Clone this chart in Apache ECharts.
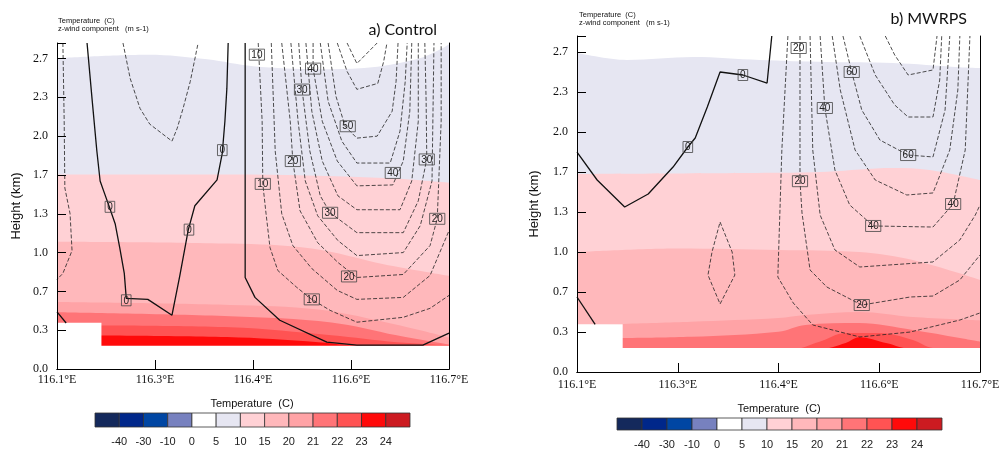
<!DOCTYPE html>
<html>
<head>
<meta charset="utf-8">
<script src="https://cdn.jsdelivr.net/npm/echarts@6/dist/echarts.min.js"></script>
<style>
  html, body { margin: 0; padding: 0; background: #fff; }
  #chart { width: 1006px; height: 450px; }
</style>
</head>
<body>
<div id="chart"></div>
<script>
// ---- axis tick labels ----
const xTickLabels = ['116.1°E', '116.3°E', '116.4°E', '116.6°E', '116.7°E'];
const tempLevels = ['-40', '-30', '-10', '0', '5', '10', '15', '20', '21', '22', '23', '24'];
const tempColors = ['#14295c', '#00278a', '#0046a3', '#7781bf', '#ffffff', '#e6e6f2',
                    '#ffd1d5', '#ffb8bb', '#ffa3a6', '#ff7477', '#ff5353', '#ff0a0a', '#cc1b21'];

// terrain mask (lon, km)
const terrainEdge = [[116.1, 0.397], [116.168, 0.397], [116.168, 0.2], [116.7, 0.2]];

// ---- a) Control : temperature isotherm tops (lon, km) ----
const ctrlT5  = [[116.1, 2.67], [116.24, 2.70], [116.33, 2.66], [116.4, 2.60], [116.5, 2.575], [116.57, 2.585], [116.65, 2.66], [116.69, 2.755], [116.7, 2.79]];
const ctrlT10 = [[116.1, 1.67], [116.365, 1.67], [116.6, 1.64], [116.7, 1.60]];
const ctrlT15 = [[116.1, 1.094], [116.365, 1.077], [116.49, 1.034], [116.6, 0.90], [116.7, 0.80]];
const ctrlT20 = [[116.1, 0.575], [116.365, 0.55], [116.5, 0.51], [116.62, 0.38], [116.7, 0.27]];
const ctrlT21 = [[116.1, 0.487], [116.365, 0.453], [116.52, 0.40], [116.62, 0.29], [116.7, 0.21]];
const ctrlT22 = [[116.1, 0.376], [116.365, 0.359], [116.52, 0.29], [116.62, 0.23], [116.7, 0.205]];
const ctrlT23 = [[116.1, 0.29], [116.36, 0.274], [116.5, 0.23], [116.56, 0.2], [116.7, 0.19]];

// ---- a) Control : z-wind contours (lon, km) ----
const ctrlW0a = [[116.146, 2.8], [116.154, 2.299], [116.161, 1.872], [116.166, 1.615], [116.173, 1.504], [116.180, 1.393], [116.189, 1.248], [116.196, 1.043], [116.203, 0.821], [116.206, 0.607], [116.239, 0.598], [116.276, 0.462], [116.288, 0.803], [116.301, 1.197], [116.311, 1.402], [116.345, 1.624], [116.353, 1.855], [116.357, 2.128], [116.360, 2.41], [116.362, 2.8]];
const ctrlW0b = [[116.1, 0.49], [116.114, 0.395]];
const ctrlW0c = [[116.388, 2.8], [116.388, 0.786], [116.403, 0.615], [116.441, 0.419], [116.513, 0.231], [116.559, 0.205], [116.66, 0.205], [116.7, 0.308]];
const ctrlWn  = [[116.201, 2.8], [116.212, 2.496], [116.227, 2.239], [116.242, 2.103], [116.276, 1.957], [116.284, 2.068], [116.293, 2.239], [116.304, 2.47], [116.316, 2.8]];
const ctrlWe  = [[116.109, 2.8], [116.111, 2.128], [116.112, 1.556], [116.12, 1.333], [116.123, 1.017], [116.109, 0.821], [116.1, 0.769]];
const ctrlW10 = [[116.408, 2.8], [116.414, 2.128], [116.415, 1.59], [116.42, 1.333], [116.426, 1.043], [116.438, 0.846], [116.467, 0.701], [116.49, 0.598], [116.518, 0.504], [116.559, 0.402], [116.63, 0.444], [116.671, 0.521], [116.7, 0.632]];
const ctrlW15 = [[116.428, 2.8], [116.434, 1.872], [116.444, 1.333], [116.461, 1.06], [116.49, 0.863], [116.529, 0.675], [116.559, 0.598], [116.63, 0.615], [116.671, 0.803], [116.7, 1.188]];
const ctrlW20 = [[116.444, 2.8], [116.457, 2.128], [116.461, 1.786], [116.472, 1.359], [116.499, 1.085], [116.53, 0.915], [116.559, 0.786], [116.63, 0.812], [116.671, 1.06], [116.682, 1.291], [116.688, 2.128], [116.688, 2.8]];
const ctrlW25 = [[116.458, 2.8], [116.469, 2.128], [116.48, 1.615], [116.499, 1.316], [116.53, 1.103], [116.559, 0.974], [116.63, 1.0], [116.656, 1.231], [116.674, 1.615], [116.677, 2.8]];
const ctrlW30 = [[116.47, 2.8], [116.475, 2.402], [116.487, 1.872], [116.503, 1.487], [116.518, 1.342], [116.559, 1.171], [116.63, 1.171], [116.653, 1.444], [116.666, 1.803], [116.665, 2.299], [116.663, 2.8]];
const ctrlW35 = [[116.481, 2.8], [116.49, 2.214], [116.506, 1.786], [116.53, 1.487], [116.559, 1.368], [116.625, 1.368], [116.643, 1.615], [116.653, 2.128], [116.653, 2.8]];
const ctrlW40 = [[116.492, 2.8], [116.492, 2.581], [116.506, 2.128], [116.529, 1.786], [116.559, 1.573], [116.614, 1.581], [116.63, 1.786], [116.64, 2.214], [116.643, 2.8]];
const ctrlW45 = [[116.503, 2.8], [116.515, 2.299], [116.536, 1.957], [116.559, 1.769], [116.61, 1.769], [116.625, 2.043], [116.633, 2.47], [116.636, 2.8]];
const ctrlW50 = [[116.515, 2.8], [116.527, 2.342], [116.541, 2.085], [116.559, 1.983], [116.59, 2.0], [116.613, 2.214], [116.619, 2.47], [116.622, 2.8]];
const ctrlW55 = [[116.529, 2.8], [116.544, 2.556], [116.559, 2.402], [116.591, 2.453], [116.6, 2.641], [116.605, 2.8]];
const ctrlW60 = [[116.544, 2.8], [116.559, 2.624], [116.59, 2.8]];
const ctrlLabels = [
  [116.181, 1.393, '0'], [116.206, 0.59, '0'], [116.302, 1.197, '0'], [116.353, 1.88, '0'],
  [116.406, 2.70, '10'], [116.415, 1.59, '10'], [116.49, 0.598, '10'],
  [116.461, 1.786, '20'], [116.547, 0.795, '20'], [116.682, 1.29, '20'],
  [116.475, 2.40, '30'], [116.518, 1.342, '30'], [116.666, 1.80, '30'],
  [116.492, 2.58, '40'], [116.614, 1.684, '40'],
  [116.545, 2.085, '50']
];

// ---- b) MWRPS : temperature isotherm tops (lon, km) ----
const mwrpsT5  = [[116.1, 2.66], [116.174, 2.60], [116.273, 2.625], [116.372, 2.60], [116.472, 2.583], [116.57, 2.575], [116.67, 2.54], [116.7, 2.533]];
const mwrpsT10 = [[116.1, 1.65], [116.4, 1.66], [116.472, 1.669], [116.57, 1.70], [116.625, 1.683], [116.7, 1.60]];
const mwrpsT15 = [[116.1, 1.0], [116.25, 1.03], [116.4, 1.017], [116.52, 1.0], [116.6, 0.933], [116.7, 0.767]];
const mwrpsT20 = [[116.1, 0.39], [116.27, 0.419], [116.4, 0.45], [116.44, 0.475], [116.52, 0.5], [116.6, 0.458], [116.7, 0.43]];
const mwrpsT21 = [[116.1, 0.28], [116.27, 0.294], [116.4, 0.336], [116.44, 0.392], [116.52, 0.408], [116.6, 0.35], [116.67, 0.283], [116.7, 0.253]];
const mwrpsT22 = [[116.1, 0.19], [116.42, 0.19], [116.46, 0.25], [116.5, 0.325], [116.55, 0.325], [116.6, 0.267], [116.63, 0.2], [116.7, 0.19]];
const mwrpsT23 = [[116.1, 0.19], [116.46, 0.19], [116.5, 0.242], [116.52, 0.29], [116.56, 0.242], [116.6, 0.19], [116.7, 0.19]];

// ---- b) MWRPS : z-wind contours (lon, km) ----
const mwrpsW0a = [[116.1, 1.833], [116.13, 1.6], [116.171, 1.375], [116.206, 1.483], [116.243, 1.708], [116.265, 1.875], [116.276, 1.95], [116.294, 2.208], [116.313, 2.5], [116.347, 2.475], [116.383, 2.408], [116.39, 2.8]];
const mwrpsW0b = [[116.1, 0.625], [116.127, 0.397]];
const mwrpsWn  = [[116.313, 1.25], [116.331, 1.0], [116.335, 0.808], [116.313, 0.567], [116.295, 0.808], [116.301, 1.0], [116.313, 1.25]];
const mwrpsW10 = [[116.414, 2.8], [116.405, 1.85], [116.399, 0.792], [116.422, 0.575], [116.451, 0.392], [116.521, 0.292], [116.596, 0.333], [116.67, 0.433], [116.7, 0.492]];
const mwrpsW20 = [[116.432, 2.8], [116.432, 1.592], [116.435, 1.325], [116.447, 0.85], [116.472, 0.708], [116.524, 0.558], [116.596, 0.625], [116.63, 0.633], [116.67, 0.767], [116.7, 0.975]];
const mwrpsW30 = [[116.447, 2.8], [116.451, 1.85], [116.462, 1.308], [116.484, 1.017], [116.521, 0.875], [116.63, 0.917], [116.67, 1.1], [116.693, 1.308], [116.7, 1.392]];
const mwrpsW40 = [[116.462, 2.8], [116.469, 2.2], [116.484, 1.683], [116.506, 1.392], [116.541, 1.217], [116.63, 1.208], [116.66, 1.4], [116.678, 1.85], [116.685, 2.8]];
const mwrpsW50 = [[116.48, 2.8], [116.492, 2.35], [116.514, 1.85], [116.544, 1.6], [116.591, 1.475], [116.63, 1.492], [116.655, 1.85], [116.667, 2.35], [116.67, 2.8]];
const mwrpsW60 = [[116.496, 2.8], [116.509, 2.5], [116.524, 2.183], [116.551, 1.933], [116.593, 1.808], [116.63, 1.792], [116.648, 2.183], [116.655, 2.8]];
const mwrpsW70 = [[116.521, 2.8], [116.544, 2.475], [116.573, 2.225], [116.593, 2.125], [116.63, 2.125], [116.64, 2.433], [116.643, 2.8]];
const mwrpsW80 = [[116.559, 2.8], [116.573, 2.642], [116.593, 2.475], [116.63, 2.517], [116.636, 2.8]];
const mwrpsLabels = [
  [116.265, 1.875, '0'], [116.347, 2.475, '0'],
  [116.43, 2.70, '20'], [116.432, 1.59, '20'], [116.524, 0.558, '20'],
  [116.469, 2.20, '40'], [116.541, 1.217, '40'], [116.66, 1.40, '40'],
  [116.509, 2.50, '60'], [116.593, 1.808, '60']
];

// ---- panels ----
const panels = [
  {
    bands: [ctrlT5, ctrlT10, ctrlT15, ctrlT20, ctrlT21, ctrlT22, ctrlT23],
    solid: [ctrlW0a, ctrlW0b, ctrlW0c],
    dashed: [ctrlWn, ctrlWe, ctrlW10, ctrlW15, ctrlW20, ctrlW25, ctrlW30, ctrlW35, ctrlW40, ctrlW45, ctrlW50, ctrlW55, ctrlW60],
    labels: ctrlLabels
  },
  {
    bands: [mwrpsT5, mwrpsT10, mwrpsT15, mwrpsT20, mwrpsT21, mwrpsT22, mwrpsT23],
    solid: [mwrpsW0a, mwrpsW0b],
    dashed: [mwrpsWn, mwrpsW10, mwrpsW20, mwrpsW30, mwrpsW40, mwrpsW50, mwrpsW60, mwrpsW70, mwrpsW80],
    labels: mwrpsLabels
  }
];
// colour index for each isotherm band top (5,10,15,20,21,22,23 C)
const bandColorIndex = [5, 6, 7, 8, 9, 10, 11];

const SERIF = '"Liberation Serif", "DejaVu Serif", serif';
const SANS = '"Liberation Sans", Arial, sans-serif';

const gridBoxes = [
  { left: 57, top: 43, width: 392, height: 326 },
  { left: 577, top: 36, width: 403, height: 336 }
];
const cbBoxes = [
  { left: 95, top: 413, width: 315, height: 14 },
  { left: 617, top: 418, width: 325, height: 14 }
];

function xLabel(v) {
  const i = Math.round((v - 116.1) / 0.15);
  return (i >= 0 && i < xTickLabels.length && Math.abs(v - (116.1 + i * 0.15)) < 1e-3) ? xTickLabels[i] : '';
}
function yLabel(v) {
  const k = Math.round(v * 3);
  return Math.abs(v * 3 - k) < 1e-3 ? (k / 3).toFixed(1) : '';
}

// boxed contour value labels, each centred on its data point
function contourLabelRenderer(labels) {
  return function (params, api) {
    const p = api.coord([api.value(0), api.value(1)]);
    const text = String(labels[params.dataIndex][2]);
    const w = text.length * 5.6 + 4;
    const h = 11;
    return {
      type: 'group',
      children: [
        { type: 'rect', shape: { x: p[0] - w / 2, y: p[1] - h / 2, width: w, height: h },
          style: { fill: null, stroke: '#444', lineWidth: 0.8 } },
        { type: 'text', x: p[0], y: p[1] + 0.5,
          style: { text, font: '10px ' + SANS, fill: '#222', align: 'center', verticalAlign: 'middle' } }
      ]
    };
  };
}

const grid = [], xAxis = [], yAxis = [], series = [];
const frameLine = { show: true, lineStyle: { color: '#000', width: 1 } };

panels.forEach((p, pi) => {
  grid.push(Object.assign({ containLabel: false }, gridBoxes[pi]));
  const xi = xAxis.length, yi = yAxis.length;
  xAxis.push({
    type: 'value', gridIndex: pi, min: 116.1, max: 116.7, interval: 0.15, z: 10,
    axisLine: frameLine, splitLine: { show: false },
    axisTick: { show: true, inside: true, length: 9, lineStyle: { color: '#000' } },
    axisLabel: { formatter: xLabel, fontFamily: SERIF, fontSize: 12, color: '#111', margin: pi === 0 ? 5 : 7 }
  });
  xAxis.push({
    type: 'value', gridIndex: pi, min: 116.1, max: 116.7, position: 'top', z: 10,
    axisLine: frameLine, axisTick: { show: false }, axisLabel: { show: false }, splitLine: { show: false }
  });
  yAxis.push({
    type: 'value', gridIndex: pi, min: 0, max: 2.8, interval: 1 / 3, z: 10,
    name: 'Height (km)', nameLocation: 'middle', nameGap: pi === 0 ? 34 : 36,
    nameTextStyle: { fontFamily: SANS, fontSize: 13, color: '#111' },
    axisLine: frameLine, splitLine: { show: false },
    axisTick: { show: true, inside: true, length: 9, lineStyle: { color: '#000' } },
    axisLabel: { formatter: yLabel, fontFamily: SERIF, fontSize: 12, color: '#111', margin: 9 }
  });
  yAxis.push({
    type: 'value', gridIndex: pi, min: 0, max: 2.8, position: 'right', z: 10,
    axisLine: frameLine, axisTick: { show: false }, axisLabel: { show: false }, splitLine: { show: false }
  });

  // temperature shading: each band fills from its top edge down, warmer bands on top
  p.bands.forEach((b, bi) => {
    series.push({
      type: 'line', xAxisIndex: xi, yAxisIndex: yi, data: b, smooth: 0.35,
      symbol: 'none', silent: true, z: 1,
      lineStyle: { width: 0 },
      areaStyle: { color: tempColors[bandColorIndex[bi]], opacity: 1 }
    });
  });
  // terrain / below-data mask
  series.push({
    type: 'line', xAxisIndex: xi, yAxisIndex: yi, data: terrainEdge,
    symbol: 'none', silent: true, z: 1,
    lineStyle: { width: 0 }, areaStyle: { color: '#ffffff', opacity: 1 }
  });
  // z-wind contour lines
  p.solid.forEach(c => series.push({
    type: 'line', xAxisIndex: xi, yAxisIndex: yi, data: c, symbol: 'none', silent: true, z: 3,
    lineStyle: { color: '#111', width: 1.3, type: 'solid' }
  }));
  p.dashed.forEach(c => series.push({
    type: 'line', xAxisIndex: xi, yAxisIndex: yi, data: c, symbol: 'none', silent: true, z: 3,
    lineStyle: { color: '#222', width: 0.8, type: [4, 2] }
  }));
  // contour value labels
  series.push({
    type: 'custom', xAxisIndex: xi, yAxisIndex: yi, silent: true, z: 4,
    data: p.labels.map(l => [l[0], l[1]]),
    encode: { x: 0, y: 1 },
    renderItem: contourLabelRenderer(p.labels)
  });
});

// colour bars
cbBoxes.forEach((box, ci) => {
  const gi = grid.length;
  grid.push(box);
  const xi = xAxis.length, yi = yAxis.length;
  xAxis.push({
    type: 'value', gridIndex: gi, min: 0, max: tempColors.length, interval: 1,
    axisLine: { show: false }, axisTick: { show: false }, splitLine: { show: false },
    axisLabel: {
      formatter: v => (v >= 1 && v <= tempLevels.length) ? tempLevels[v - 1] : '',
      fontFamily: SANS, fontSize: 11, color: '#222', margin: 9
    }
  });
  yAxis.push({ type: 'value', gridIndex: gi, min: 0, max: 1, show: false });
  series.push({
    type: 'custom', xAxisIndex: xi, yAxisIndex: yi, silent: true,
    data: tempColors.map((c, i) => [i, 0]),
    encode: { x: 0, y: 1 },
    renderItem: (params, api) => {
      const i = api.value(0);
      const a = api.coord([i, 1]);
      const b = api.coord([i + 1, 0]);
      return {
        type: 'rect',
        shape: { x: a[0], y: a[1], width: b[0] - a[0], height: b[1] - a[1] },
        style: { fill: tempColors[i], stroke: '#333', lineWidth: 0.8 }
      };
    }
  });
});

function txt(text, x, y, font, align) {
  return { type: 'text', x, y, silent: true,
    style: { text, font, fill: '#111', align: align || 'left', verticalAlign: 'middle' } };
}

const graphic = [
  txt('Temperature  (C)', 58, 21, '7.5px ' + SANS),
  txt('z-wind component   (m s-1)', 58, 29, '7.5px ' + SANS),
  txt('a) Control', 437, 30, '16px Lato, "Open Sans", sans-serif', 'right'),
  txt('Temperature  (C)', 579, 15, '7.5px ' + SANS),
  txt('z-wind component   (m s-1)', 579, 23, '7.5px ' + SANS),
  txt('b) MWRPS', 967, 19, '16px Lato, "Open Sans", sans-serif', 'right'),
  txt('Temperature  (C)', 252, 404, '11px ' + SANS, 'center'),
  txt('Temperature  (C)', 779, 409, '11px ' + SANS, 'center')
];

const chart = echarts.init(document.getElementById('chart'), null, { renderer: 'canvas' });
chart.setOption({
  animation: false,
  backgroundColor: '#ffffff',
  grid, xAxis, yAxis, series, graphic
});
</script>
</body>
</html>
